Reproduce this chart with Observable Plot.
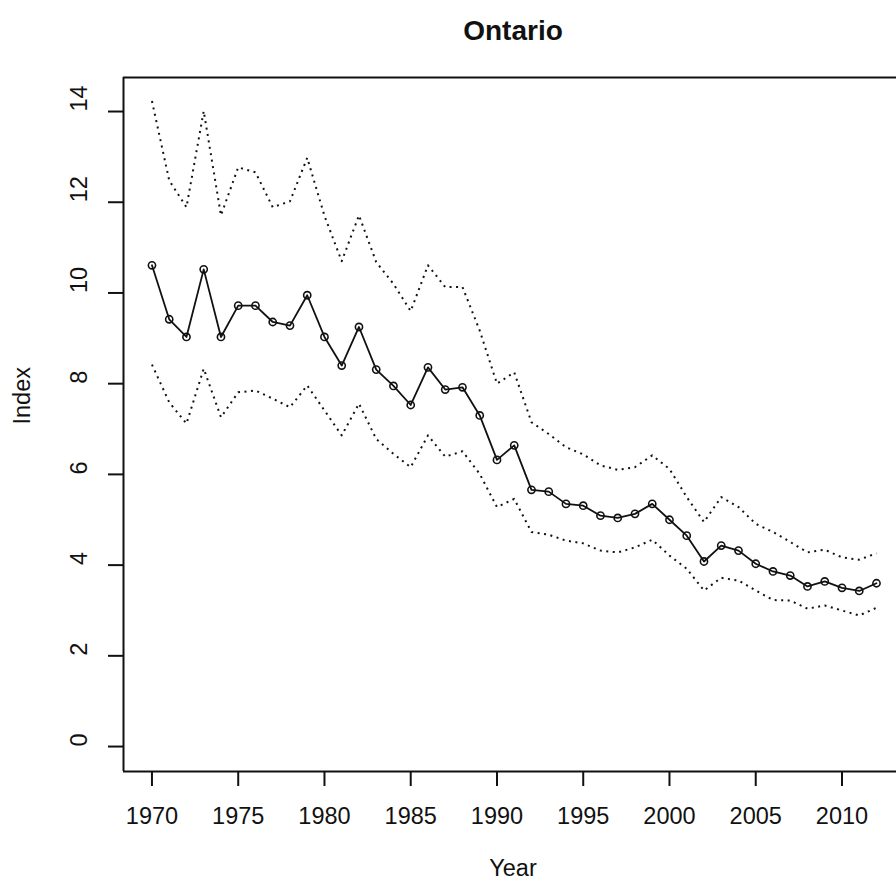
<!DOCTYPE html>
<html>
<head>
<meta charset="utf-8">
<script src="https://cdn.jsdelivr.net/npm/d3@7"></script>
<script src="https://cdn.jsdelivr.net/npm/@observablehq/plot@0.6"></script>
<style>
  html, body { margin: 0; padding: 0; background: #fff; overflow: hidden; }
  #chart svg { font-family: "Liberation Sans", Arial, sans-serif; color: #000; display: block; }
</style>
</head>
<body>
<div id="chart"></div>
<script>
const titleText = ["Ontario"];
const xLabel = ["Year"];
const yLabel = ["Index"];

const years = d3.range(1970, 2013);
const indexValues = [10.61, 9.42, 9.03, 10.52, 9.03, 9.72, 9.72, 9.36, 9.28, 9.95,
  9.03, 8.40, 9.25, 8.31, 7.95, 7.53, 8.36, 7.87, 7.92, 7.30,
  6.32, 6.64, 5.66, 5.62, 5.35, 5.31, 5.09, 5.04, 5.13, 5.35,
  5.00, 4.65, 4.08, 4.43, 4.32, 4.03, 3.86, 3.77, 3.53, 3.64,
  3.50, 3.43, 3.60];
const upperValues = [14.23, 12.48, 11.89, 14.01, 11.71, 12.77, 12.66, 11.89, 12.02, 12.98,
  11.70, 10.70, 11.71, 10.68, 10.20, 9.60, 10.61, 10.13, 10.13, 9.17,
  8.00, 8.25, 7.15, 6.89, 6.60, 6.44, 6.20, 6.10, 6.16, 6.42,
  6.12, 5.50, 4.95, 5.50, 5.28, 4.91, 4.73, 4.51, 4.28, 4.34,
  4.17, 4.12, 4.26];
const lowerValues = [8.42, 7.59, 7.12, 8.33, 7.26, 7.81, 7.85, 7.67, 7.48, 7.96,
  7.41, 6.86, 7.56, 6.78, 6.45, 6.16, 6.86, 6.39, 6.51, 6.01,
  5.28, 5.46, 4.73, 4.67, 4.54, 4.48, 4.32, 4.28, 4.39, 4.56,
  4.21, 3.92, 3.44, 3.72, 3.66, 3.44, 3.23, 3.22, 3.04, 3.11,
  3.00, 2.89, 3.06];

const xTicks = [1970, 1975, 1980, 1985, 1990, 1995, 2000, 2005, 2010];
const yTicks = [0, 2, 4, 6, 8, 10, 12, 14];

const xDomain = [1968.35, 2013.16];
const yDomain = [-0.55, 14.75];

const rows = years.map((year, i) => ({
  year, index: indexValues[i], upper: upperValues[i], lower: lowerValues[i]
}));

const ink = "#111";
const fontSize = 23.5;

const chart = Plot.plot({
  width: 896,
  height: 888,
  marginLeft: 123,
  marginRight: 0,
  marginTop: 77,
  marginBottom: 117,
  x: { domain: xDomain, label: null },
  y: { domain: yDomain, label: null },
  marks: [
    // box (left, top, bottom; right side is cut off)
    Plot.ruleX([xDomain[0]], { stroke: ink, strokeWidth: 2 }),
    Plot.ruleY(yDomain, { stroke: ink, strokeWidth: 2 }),
    // axes
    Plot.axisX({ ticks: xTicks, tickSize: 15, tickPadding: 21, tickFormat: "d",
      fontSize, stroke: ink, strokeWidth: 2, fill: ink, label: null }),
    Plot.axisY({ ticks: yTicks, tickSize: 15, tickFormat: () => "", stroke: ink, strokeWidth: 2, label: null }),
    Plot.text(yTicks, { y: d => d, text: d => String(d), frameAnchor: "left", dx: -44,
      rotate: -90, fontSize, fill: ink }),
    // confidence bounds
    Plot.line(rows, { x: "year", y: "upper", stroke: ink, strokeWidth: 2,
      strokeDasharray: "2,4.5", strokeLinecap: "butt" }),
    Plot.line(rows, { x: "year", y: "lower", stroke: ink, strokeWidth: 2,
      strokeDasharray: "2,4.5", strokeLinecap: "butt" }),
    // index line with points
    Plot.line(rows, { x: "year", y: "index", stroke: ink, strokeWidth: 1.8 }),
    Plot.dot(rows, { x: "year", y: "index", r: 3.6, stroke: ink, strokeWidth: 1.6, fill: "none" }),
    // labels
    Plot.text(titleText, { text: d => d, frameAnchor: "top", dy: -57, dx: 3,
      fontSize: 28, fontWeight: "bold", fill: ink }),
    Plot.text(xLabel, { text: d => d, frameAnchor: "bottom", dy: 104, dx: 3, fontSize, fill: ink }),
    Plot.text(yLabel, { text: d => d, frameAnchor: "left", dx: -101, rotate: -90, fontSize, fill: ink })
  ]
});

document.getElementById("chart").appendChild(chart);
</script>
</body>
</html>
